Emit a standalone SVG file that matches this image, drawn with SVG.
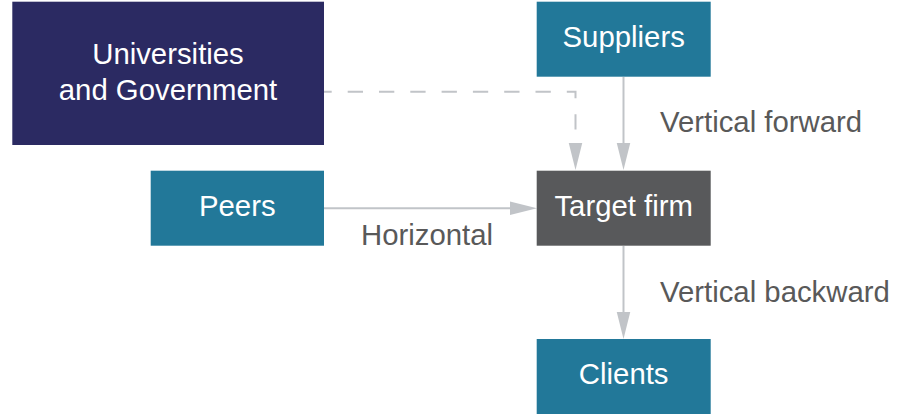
<svg xmlns="http://www.w3.org/2000/svg" width="904" height="417" viewBox="0 0 904 417">
  <style>
    .node-text { font-family: "Liberation Sans", Arial, sans-serif; font-size: 29.33px; fill: #ffffff; text-anchor: middle; }
    .label { font-family: "Liberation Sans", Arial, sans-serif; font-size: 29.33px; fill: #595959; }
    .teal { fill: #227899; }
    .navy { fill: #2b2a62; }
    .dark { fill: #58595b; }
    .conn { fill: none; stroke: #c1c4c8; stroke-width: 2; }
    .dashed { stroke-dasharray: 15.3 16; }
  </style>
  <defs>
    <marker id="arrow" markerUnits="userSpaceOnUse" markerWidth="28" markerHeight="14" refX="0" refY="6.75" orient="auto" overflow="visible">
      <path d="M0,0 L27,6.75 L0,13.5 Z" fill="#c1c4c8"/>
    </marker>
  </defs>
  <rect width="904" height="417" fill="#ffffff"/>

  <g id="connectors">
    <path class="conn dashed" d="M316.4,91.7 H575.5 V143" marker-end="url(#arrow)"/>
    <path class="conn" d="M623.5,77 V143" marker-end="url(#arrow)"/>
    <path class="conn" d="M324,208.3 H510" marker-end="url(#arrow)"/>
    <path class="conn" d="M623.5,246 V312" marker-end="url(#arrow)"/>
    <text class="label" x="361" y="245">Horizontal</text>
    <text class="label" x="660" y="131.7">Vertical forward</text>
    <text class="label" x="660" y="301.7">Vertical backward</text>
  </g>

  <g id="universities">
    <rect class="navy" x="12.3" y="1.7" width="311.7" height="143.3"/>
    <text class="node-text" x="168" y="64">Universities</text>
    <text class="node-text" x="168" y="100">and Government</text>
  </g>

  <g id="suppliers">
    <rect class="teal" x="536.7" y="1.7" width="174" height="75"/>
    <text class="node-text" x="623.7" y="47">Suppliers</text>
  </g>

  <g id="peers">
    <rect class="teal" x="150.7" y="170.7" width="173.3" height="75"/>
    <text class="node-text" x="237.3" y="216">Peers</text>
  </g>

  <g id="target-firm">
    <rect class="dark" x="536.7" y="170.7" width="174" height="75"/>
    <text class="node-text" x="623.7" y="216">Target firm</text>
  </g>

  <g id="clients">
    <rect class="teal" x="536.7" y="339" width="174" height="75"/>
    <text class="node-text" x="623.7" y="384">Clients</text>
  </g>
</svg>
